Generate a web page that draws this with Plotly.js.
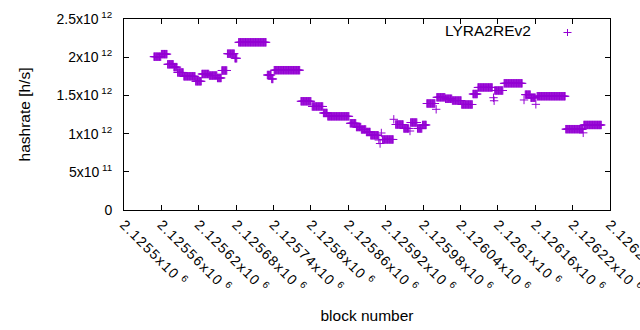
<!DOCTYPE html>
<html>
<head>
<meta charset="utf-8">
<script src="https://cdn.plot.ly/plotly-3.0.1.min.js"></script>
<style>
  html, body { margin: 0; padding: 0; background: #fff; }
  #chart { width: 640px; height: 330px; }
  .xtick text { letter-spacing: 1.3px; }
</style>
</head>
<body>
<div id="chart"></div>
<script>
// Runs of consecutive blocks sharing the same hashrate estimate
const runStart = [
  2125548, 2125560, 2125570, 2125580, 2125586, 2125596, 2125615, 2125625, 2125637, 2125650,
  2125657, 2125666, 2125678, 2125684, 2125730, 2125737, 2125741, 2125784, 2125802, 2125820,
  2125827, 2125863, 2125873, 2125881, 2125889, 2125896, 2125909, 2125911, 2125913, 2125915,
  2125933, 2125936, 2125949, 2125959, 2125960, 2125971, 2125979, 2125986, 2126001, 2126002,
  2126016, 2126027, 2126042, 2126060, 2126068, 2126093, 2126094, 2126095, 2126110, 2126142,
  2126144, 2126153, 2126161, 2126163, 2126209, 2126237, 2126238
];
const runEnd = [
  2125559, 2125569, 2125579, 2125585, 2125595, 2125614, 2125624, 2125636, 2125649, 2125656,
  2125665, 2125677, 2125681, 2125728, 2125736, 2125739, 2125782, 2125800, 2125819, 2125826,
  2125861, 2125872, 2125880, 2125888, 2125895, 2125908, 2125909, 2125911, 2125913, 2125932,
  2125933, 2125948, 2125957, 2125959, 2125970, 2125978, 2125985, 2125999, 2126001, 2126015,
  2126026, 2126041, 2126059, 2126067, 2126091, 2126093, 2126094, 2126108, 2126139, 2126142,
  2126152, 2126160, 2126161, 2126208, 2126236, 2126237, 2126266
];
const runValue = [
  2.007e12, 2.040e12, 1.907e12, 1.870e12, 1.800e12, 1.750e12, 1.685e12, 1.780e12, 1.760e12, 1.728e12,
  1.826e12, 2.046e12, 1.986e12, 2.195e12, 1.767e12, 1.715e12, 1.830e12, 1.423e12, 1.355e12, 1.270e12,
  1.226e12, 1.135e12, 1.086e12, 1.054e12, 1.021e12, 0.978e12, 0.916e12, 0.870e12, 1.008e12, 0.923e12,
  1.187e12, 1.119e12, 1.067e12, 1.034e12, 1.145e12, 1.067e12, 1.113e12, 1.394e12, 1.318e12, 1.475e12,
  1.456e12, 1.433e12, 1.381e12, 1.518e12, 1.604e12, 1.470e12, 1.430e12, 1.564e12, 1.658e12, 1.440e12,
  1.510e12, 1.470e12, 1.383e12, 1.489e12, 1.058e12, 1.010e12, 1.113e12
];

const seriesName = "LYRA2REv2";

const xTickVals = [
  2125500, 2125560, 2125620, 2125680, 2125740, 2125800, 2125860,
  2125920, 2125980, 2126040, 2126100, 2126160, 2126220, 2126280
];
const xTickText = [
  "2.1255x10<sup> 6</sup>", "2.12556x10<sup> 6</sup>", "2.12562x10<sup> 6</sup>", "2.12568x10<sup> 6</sup>",
  "2.12574x10<sup> 6</sup>", "2.1258x10<sup> 6</sup>", "2.12586x10<sup> 6</sup>", "2.12592x10<sup> 6</sup>",
  "2.12598x10<sup> 6</sup>", "2.12604x10<sup> 6</sup>", "2.1261x10<sup> 6</sup>", "2.12616x10<sup> 6</sup>",
  "2.12622x10<sup> 6</sup>", "2.12628x10<sup> 6</sup>"
];
const yTickVals = [0, 5e11, 1e12, 1.5e12, 2e12, 2.5e12];
const yTickText = [
  "0", "5x10<sup> 11</sup>", "1x10<sup> 12</sup>", "1.5x10<sup> 12</sup>", "2x10<sup> 12</sup>", "2.5x10<sup> 12</sup>"
];

// Expand runs into one point per block
const blocks = [];
const hashrate = [];
for (let i = 0; i < runStart.length; i++) {
  for (let b = runStart[i]; b <= runEnd[i]; b++) {
    blocks.push(b);
    hashrate.push(runValue[i]);
  }
}

const color = "#9400d3";
const family = "Liberation Sans, Arial, sans-serif";
const font = { family: family, size: 14, color: "#000" };
const titleFont = { family: family, size: 15.5, color: "#000" };

const trace = {
  type: "scatter",
  mode: "markers",
  name: seriesName,
  x: blocks,
  y: hashrate,
  marker: { symbol: "cross-thin-open", size: 6, color: color, line: { color: color, width: 1 } },
  showlegend: false,
  hoverinfo: "skip"
};

// legend key (gnuplot style: text then symbol) in paper coordinates
const W = 486, H = 191;
const px = v => (v - 124) / W;
const py = v => (210 - v) / H;

const layout = {
  width: 640,
  height: 330,
  margin: { l: 124, r: 30, t: 19, b: 120 },
  paper_bgcolor: "#fff",
  plot_bgcolor: "#fff",
  font: font,
  showlegend: false,
  xaxis: {
    range: [2125500, 2126280],
    tickmode: "array",
    tickvals: xTickVals,
    ticktext: xTickText,
    tickangle: 45,
    ticklabeloverflow: "allow",
    ticks: "inside",
    ticklen: 5,
    tickcolor: "#000",
    showline: true,
    linecolor: "#000",
    linewidth: 1,
    mirror: "allticks",
    showgrid: false,
    zeroline: false,
    tickfont: font,
    title: { text: "block number", font: titleFont, standoff: 14 }
  },
  yaxis: {
    range: [0, 2.5e12],
    tickmode: "array",
    tickvals: yTickVals,
    ticktext: yTickText,
    ticks: "inside",
    ticklen: 5,
    tickcolor: "#000",
    showline: true,
    linecolor: "#000",
    linewidth: 1,
    mirror: "allticks",
    showgrid: false,
    zeroline: false,
    tickfont: font,
    ticklabelstandoff: 8,
    title: { text: "hashrate [h/s]", font: titleFont, standoff: 22 }
  },
  annotations: [
    {
      xref: "paper", yref: "paper",
      x: px(533), y: py(31),
      xanchor: "right", yanchor: "middle",
      text: seriesName,
      showarrow: false,
      font: titleFont
    }
  ],
  shapes: [
    { type: "line", xref: "paper", yref: "paper", x0: px(563.5), x1: px(571.5), y0: py(32.5), y1: py(32.5), line: { color: color, width: 1 } },
    { type: "line", xref: "paper", yref: "paper", x0: px(567.5), x1: px(567.5), y0: py(29), y1: py(36), line: { color: color, width: 1 } }
  ]
};

Plotly.newPlot("chart", [trace], layout, { staticPlot: true, displayModeBar: false });
</script>
</body>
</html>
